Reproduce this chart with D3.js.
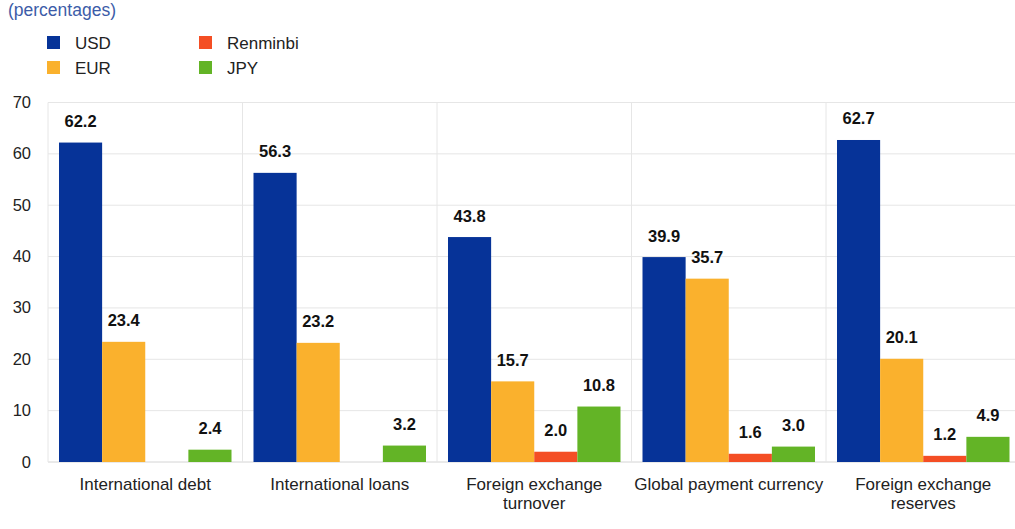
<!DOCTYPE html>
<html>
<head>
<meta charset="utf-8">
<script src="https://cdn.jsdelivr.net/npm/d3@7"></script>
<style>
  html, body { margin: 0; padding: 0; background: #fff; }
  svg { display: block; font-family: "Liberation Sans", Arial, sans-serif; }
</style>
</head>
<body>
<svg id="chart" width="1015" height="529"></svg>
<script>
// ---- data ----
const categories = [
  ["International debt"],
  ["International loans"],
  ["Foreign exchange", "turnover"],
  ["Global payment currency"],
  ["Foreign exchange", "reserves"]
];
const seriesNames = ["USD", "EUR", "Renminbi", "JPY"];
const seriesColors = ["#063398", "#FAB12D", "#F44E24", "#63B426"];
const USD = [62.2, 56.3, 43.8, 39.9, 62.7];
const EUR = [23.4, 23.2, 15.7, 35.7, 20.1];
const Renminbi = [null, null, 2.0, 1.6, 1.2];
const JPY = [2.4, 3.2, 10.8, 3.0, 4.9];
const yTicks = [0, 10, 20, 30, 40, 50, 60, 70];

const seriesValues = [USD, EUR, Renminbi, JPY];

// ---- layout ----
const svg = d3.select("#chart");
const mLeft = 48, mRight = 1020.5, mTop = 102.5, mBottom = 462;

const x0 = d3.scaleBand().domain(d3.range(categories.length)).range([mLeft, mRight]).padding(0);
const x1 = d3.scaleBand().domain(d3.range(seriesNames.length))
  .range([11, x0.bandwidth() - 11]).padding(0);
const y = d3.scaleLinear().domain([0, 70]).range([mBottom, mTop]);

// gridlines horizontal
svg.append("g").selectAll("line").data(yTicks).join("line")
  .attr("x1", mLeft).attr("x2", mRight)
  .attr("y1", d => y(d)).attr("y2", d => y(d))
  .attr("stroke", d => d === 0 ? "#d4d4d4" : "#e6e6e6").attr("stroke-width", 1);

// vertical separators
svg.append("g").selectAll("line").data(d3.range(categories.length)).join("line")
  .attr("x1", d => x0(d)).attr("x2", d => x0(d))
  .attr("y1", mTop).attr("y2", mBottom)
  .attr("stroke", "#e6e6e6").attr("stroke-width", 1);

// y tick labels
svg.append("g").selectAll("text").data(yTicks).join("text")
  .attr("x", 31).attr("y", d => y(d) + 5.5)
  .attr("text-anchor", "end")
  .attr("font-size", 16.5).attr("fill", "#222")
  .text(d => d);

// bars
const groups = svg.append("g").selectAll("g").data(categories).join("g")
  .attr("transform", (d, i) => `translate(${x0(i)},0)`);

const valOf = (vals, node) => vals[categories.indexOf(d3.select(node.parentNode).datum())];

seriesValues.forEach((vals, s) => {
  const sel = groups.filter((d, i) => vals[i] != null);
  sel.append("rect")
    .attr("x", x1(s)).attr("width", x1.bandwidth())
    .attr("y", function() { return y(valOf(vals, this)); })
    .attr("height", function() { return y(0) - y(valOf(vals, this)); })
    .attr("fill", seriesColors[s]);
  sel.append("text")
    .attr("x", x1(s) + x1.bandwidth() / 2)
    .attr("y", function() { return y(valOf(vals, this)) - 15.5; })
    .attr("text-anchor", "middle")
    .attr("font-size", 16.5).attr("font-weight", "bold").attr("fill", "#111")
    .text(function() { return valOf(vals, this).toFixed(1); });
});

// category labels
groups.each(function(lines) {
  const t = d3.select(this).append("text")
    .attr("text-anchor", "middle")
    .attr("font-size", 17).attr("fill", "#222");
  lines.forEach((ln, k) => {
    t.append("tspan").attr("x", x0.bandwidth() / 2).attr("y", 490 + k * 19).text(ln);
  });
});

// subtitle
svg.append("text").attr("x", 8).attr("y", 16)
  .attr("font-size", 17.5).attr("fill", "#3c5ca8").text("(percentages)");

// legend
const legendPos = [[47, 36], [47, 61], [199, 36], [199, 61]];
const leg = svg.append("g").selectAll("g").data(seriesNames).join("g")
  .attr("transform", (d, i) => `translate(${legendPos[i][0]},${legendPos[i][1]})`);
leg.append("rect").attr("width", 13).attr("height", 13)
  .attr("fill", (d, i) => seriesColors[i]);
leg.append("text").attr("x", 28).attr("y", 12.5)
  .attr("font-size", 17).attr("fill", "#222").text(d => d);
</script>
</body>
</html>
